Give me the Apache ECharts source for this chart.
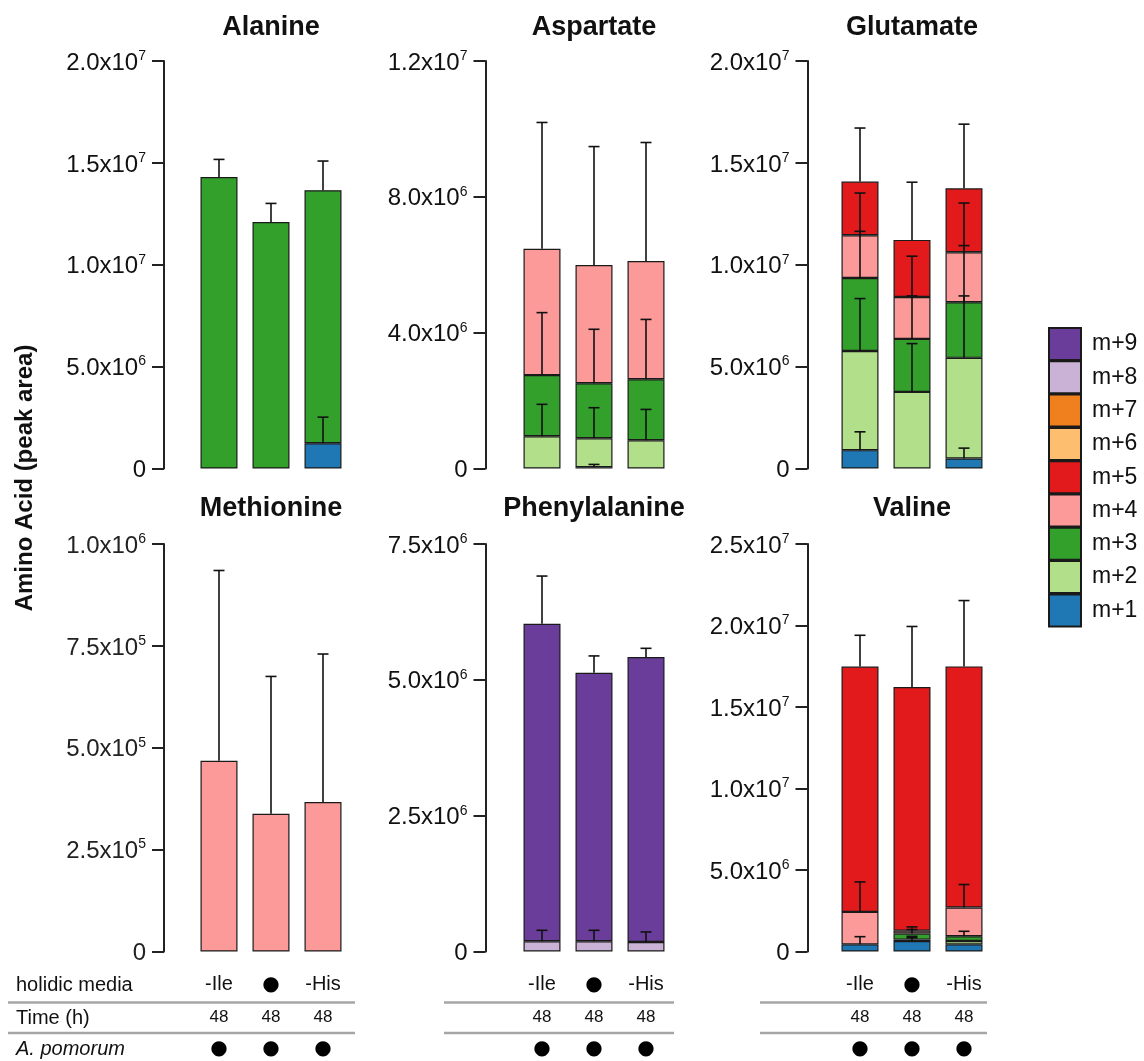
<!DOCTYPE html>
<html>
<head>
<meta charset="utf-8">
<title>Amino acid isotopologues</title>
<script src="https://cdn.jsdelivr.net/npm/echarts@6/dist/echarts.min.js"></script>
<style>
  html, body { margin: 0; padding: 0; background: #fff; }
  #chart { width: 1144px; height: 1061px; }
</style>
</head>
<body>
<div id="chart"></div>
<script>
// categories and table rows
const conditions = ['-Ile', '●', '-His']
const timeRow = ['48', '48', '48']
const pomorumRow = ['●', '●', '●']

const isotopes = ['m+1', 'm+2', 'm+3', 'm+4', 'm+5', 'm+6', 'm+7', 'm+8', 'm+9']
const isoColors = ['#1f78b4', '#b2df8a', '#33a02c', '#fb9a99', '#e31a1c', '#fdbf6f', '#f07f1e', '#cab2d6', '#6a3d9a']

// y axis range per panel
const panelTitles = ['Alanine', 'Aspartate', 'Glutamate', 'Methionine', 'Phenylalanine', 'Valine']
const axisMax = [2e7, 1.2e7, 2e7, 1e6, 7.5e6, 2.5e7]
const axisStep = [5e6, 4e6, 5e6, 2.5e5, 2.5e6, 5e6]

// segment heights (mean) and error (SD) per isotopologue, columns follow conditions
const alanineIso = ['m+1', 'm+3']
const alanineMean = [[null, null, 1.24e6], [1.431e7, 1.210e7, 1.242e7]]
const alanineErr = [[null, null, 1.28e6], [0.86e6, 0.91e6, 1.43e6]]

const aspartateIso = ['m+1', 'm+2', 'm+3', 'm+4']
const aspartateMean = [[null, 0.04e6, null], [0.95e6, 0.85e6, 0.83e6], [1.80e6, 1.62e6, 1.80e6], [3.72e6, 3.48e6, 3.48e6]]
const aspartateErr = [[null, 0.08e6, null], [0.94e6, 0.90e6, 0.91e6], [1.84e6, 1.59e6, 1.76e6], [3.72e6, 3.49e6, 3.49e6]]

const glutamateIso = ['m+1', 'm+2', 'm+3', 'm+4', 'm+5']
const glutamateMean = [[0.90e6, null, 0.49e6], [4.87e6, 3.76e6, 4.94e6], [3.58e6, 2.60e6, 2.73e6], [2.10e6, 2.06e6, 2.45e6], [2.63e6, 2.80e6, 3.14e6]]
const glutamateErr = [[0.90e6, null, 0.51e6], [2.57e6, 2.37e6, 3.04e6], [2.29e6, 2.11e6, 2.78e6], [2.07e6, 2.00e6, 2.42e6], [2.63e6, 2.83e6, 3.15e6]]

const methionineIso = ['m+4']
const methionineMean = [[4.68e5, 3.38e5, 3.67e5]]
const methionineErr = [[4.67e5, 3.37e5, 3.63e5]]

const phenylalanineIso = ['m+8', 'm+9']
const phenylalanineMean = [[1.9e5, 1.9e5, 1.75e5], [5.84e6, 4.94e6, 5.245e6]]
const phenylalanineErr = [[2.0e5, 2.0e5, 1.85e5], [0.88e6, 0.31e6, 0.16e6]]

const valineIso = ['m+1', 'm+2', 'm+3', 'm+4', 'm+5']
const valineMean = [[0.44e6, 0.64e6, 0.44e6], [null, 0.09e6, 0.20e6], [null, 0.37e6, 0.30e6], [1.99e6, 0.18e6, 1.76e6], [15.05e6, 14.94e6, 14.79e6]]
const valineErr = [[0.47e6, 0.2e6, null], [null, 0.2e6, null], [null, 0.25e6, 0.30e6], [1.84e6, 0.23e6, 1.41e6], [1.92e6, 3.72e6, 4.04e6]]

const panelIso = [alanineIso, aspartateIso, glutamateIso, methionineIso, phenylalanineIso, valineIso]
const panelMean = [alanineMean, aspartateMean, glutamateMean, methionineMean, phenylalanineMean, valineMean]
const panelErr = [alanineErr, aspartateErr, glutamateErr, methionineErr, phenylalanineErr, valineErr]

const FONT = '"Liberation Sans", Arial, Helvetica, sans-serif'
const gridLeft = [193, 516, 834]
const axisX = [164, 485.5, 807.5]
const gridTop = [61, 544]
const gridW = 156
const gridH = 407.5

function sciLabel(v) {
  if (v === 0) return '{n|0}'
  const e = Math.floor(Math.log10(v) + 1e-9)
  const m = (v / Math.pow(10, e)).toFixed(1)
  return '{n|' + m + 'x10}{s|' + e + '}'
}

function errorBar(params, api) {
  const base = api.coord([api.value(0), api.value(1)])
  const top = api.coord([api.value(0), api.value(2)])
  const style = { stroke: '#111', lineWidth: 1.6 }
  return {
    type: 'group',
    children: [
      { type: 'line', shape: { x1: base[0], y1: base[1], x2: top[0], y2: top[1] }, style },
      { type: 'line', shape: { x1: top[0] - 5.5, y1: top[1], x2: top[0] + 5.5, y2: top[1] }, style }
    ]
  }
}

const grid = []
const xAxis = []
const yAxis = []
const series = []
const graphic = []

panelTitles.forEach((title, p) => {
  const row = Math.floor(p / 3)
  const col = p % 3
  const bottomRow = row === 1
  grid.push({ left: gridLeft[col], top: gridTop[row], width: gridW, height: gridH })
  xAxis.push({
    type: 'category',
    gridIndex: p,
    data: conditions,
    axisLine: { show: false },
    axisTick: { show: false },
    axisLabel: {
      show: bottomRow,
      margin: 17,
      interval: 0,
      formatter: (v, i) => {
        const media = v === '●' ? '{dm|●}' : '{m|' + v + '}'
        return media + '\n{t|' + timeRow[i] + '}\n{d|' + pomorumRow[i] + '}'
      },
      rich: {
        m: { fontFamily: FONT, fontSize: 20, color: '#111', lineHeight: 32 },
        dm: { fontFamily: 'DejaVu Sans', fontSize: 20, color: '#000', lineHeight: 32 },
        t: { fontFamily: FONT, fontSize: 17, color: '#111', lineHeight: 34 },
        d: { fontFamily: 'DejaVu Sans', fontSize: 20, color: '#000', lineHeight: 28 }
      }
    }
  })
  yAxis.push({
    type: 'value',
    gridIndex: p,
    min: 0,
    max: axisMax[p],
    interval: axisStep[p],
    offset: gridLeft[col] - axisX[col],
    axisLine: { show: true, lineStyle: { color: '#222', width: 2 } },
    axisTick: { show: true, length: 12, lineStyle: { color: '#222', width: 2 } },
    splitLine: { show: false },
    axisLabel: {
      margin: 18,
      formatter: sciLabel,
      rich: {
        n: { fontFamily: FONT, fontSize: 24, color: p === 3 ? '#222' : '#111', lineHeight: 24, padding: [4, 0, 0, 0] },
        s: { fontFamily: FONT, fontSize: 14, color: '#111', lineHeight: 14, verticalAlign: 'top' }
      }
    }
  })

  // stacked bars, m+1 at the bottom
  const cum = [0, 0, 0]
  const errData = []
  isotopes.forEach((iso, k) => {
    const r = panelIso[p].indexOf(iso)
    const vals = r >= 0 ? panelMean[p][r] : [null, null, null]
    series.push({
      type: 'bar',
      name: iso,
      xAxisIndex: p,
      yAxisIndex: p,
      stack: 'p' + p,
      barWidth: 37,
      data: vals,
      itemStyle: { color: isoColors[k], borderColor: '#1a1a1a', borderWidth: 1.2 },
      emphasis: { disabled: true },
      silent: true
    })
    if (r >= 0) {
      vals.forEach((v, c) => {
        if (v == null) return
        cum[c] += v
        const e = panelErr[p][r][c]
        if (e != null) errData.push([c, cum[c], cum[c] + e])
      })
    }
  })
  series.push({
    type: 'custom',
    xAxisIndex: p,
    yAxisIndex: p,
    renderItem: errorBar,
    encode: { x: 0, y: 2 },
    data: errData,
    z: 10,
    silent: true
  })

  graphic.push({
    type: 'text',
    x: gridLeft[col] + gridW / 2,
    y: row === 0 ? 28 : 509,
    style: {
      text: title,
      font: 'bold 27px ' + FONT,
      fill: '#111',
      align: 'center',
      verticalAlign: 'middle'
    }
  })
})

// table rules under the bottom row
const ruleSpans = [[8, 355], [444, 674], [760, 987]]
ruleSpans.forEach(s => {
  [1002.5, 1033].forEach(y => {
    graphic.push({
      type: 'line',
      shape: { x1: s[0], y1: y, x2: s[1], y2: y },
      style: { stroke: '#a6a6a6', lineWidth: 2.5 }
    })
  })
})

const rowLabels = [
  { text: 'holidic media', y: 985, italic: false },
  { text: 'Time (h)', y: 1018, italic: false },
  { text: 'A. pomorum', y: 1049, italic: true }
]
rowLabels.forEach(l => {
  graphic.push({
    type: 'text',
    x: 16,
    y: l.y,
    style: {
      text: l.text,
      font: (l.italic ? 'italic ' : '') + '20px ' + FONT,
      fill: '#111',
      align: 'left',
      verticalAlign: 'middle'
    }
  })
})

graphic.push({
  type: 'text',
  x: 25,
  y: 478,
  rotation: Math.PI / 2,
  style: {
    text: 'Amino Acid (peak area)',
    font: 'bold 24px ' + FONT,
    fill: '#111',
    align: 'center',
    verticalAlign: 'middle'
  }
})

const chart = echarts.init(document.getElementById('chart'), null, { renderer: 'canvas' })
chart.setOption({
  backgroundColor: '#fff',
  animation: false,
  grid,
  xAxis,
  yAxis,
  legend: {
    orient: 'vertical',
    left: 1048,
    top: 327,
    padding: 0,
    icon: 'rect',
    itemWidth: 32,
    itemHeight: 32,
    itemGap: -0.7,
    selectedMode: false,
    data: isotopes.slice().reverse(),
    textStyle: { fontFamily: FONT, fontSize: 23, color: '#111', padding: [0, 0, 0, 6] }
  },
  series,
  graphic
})
</script>
</body>
</html>
